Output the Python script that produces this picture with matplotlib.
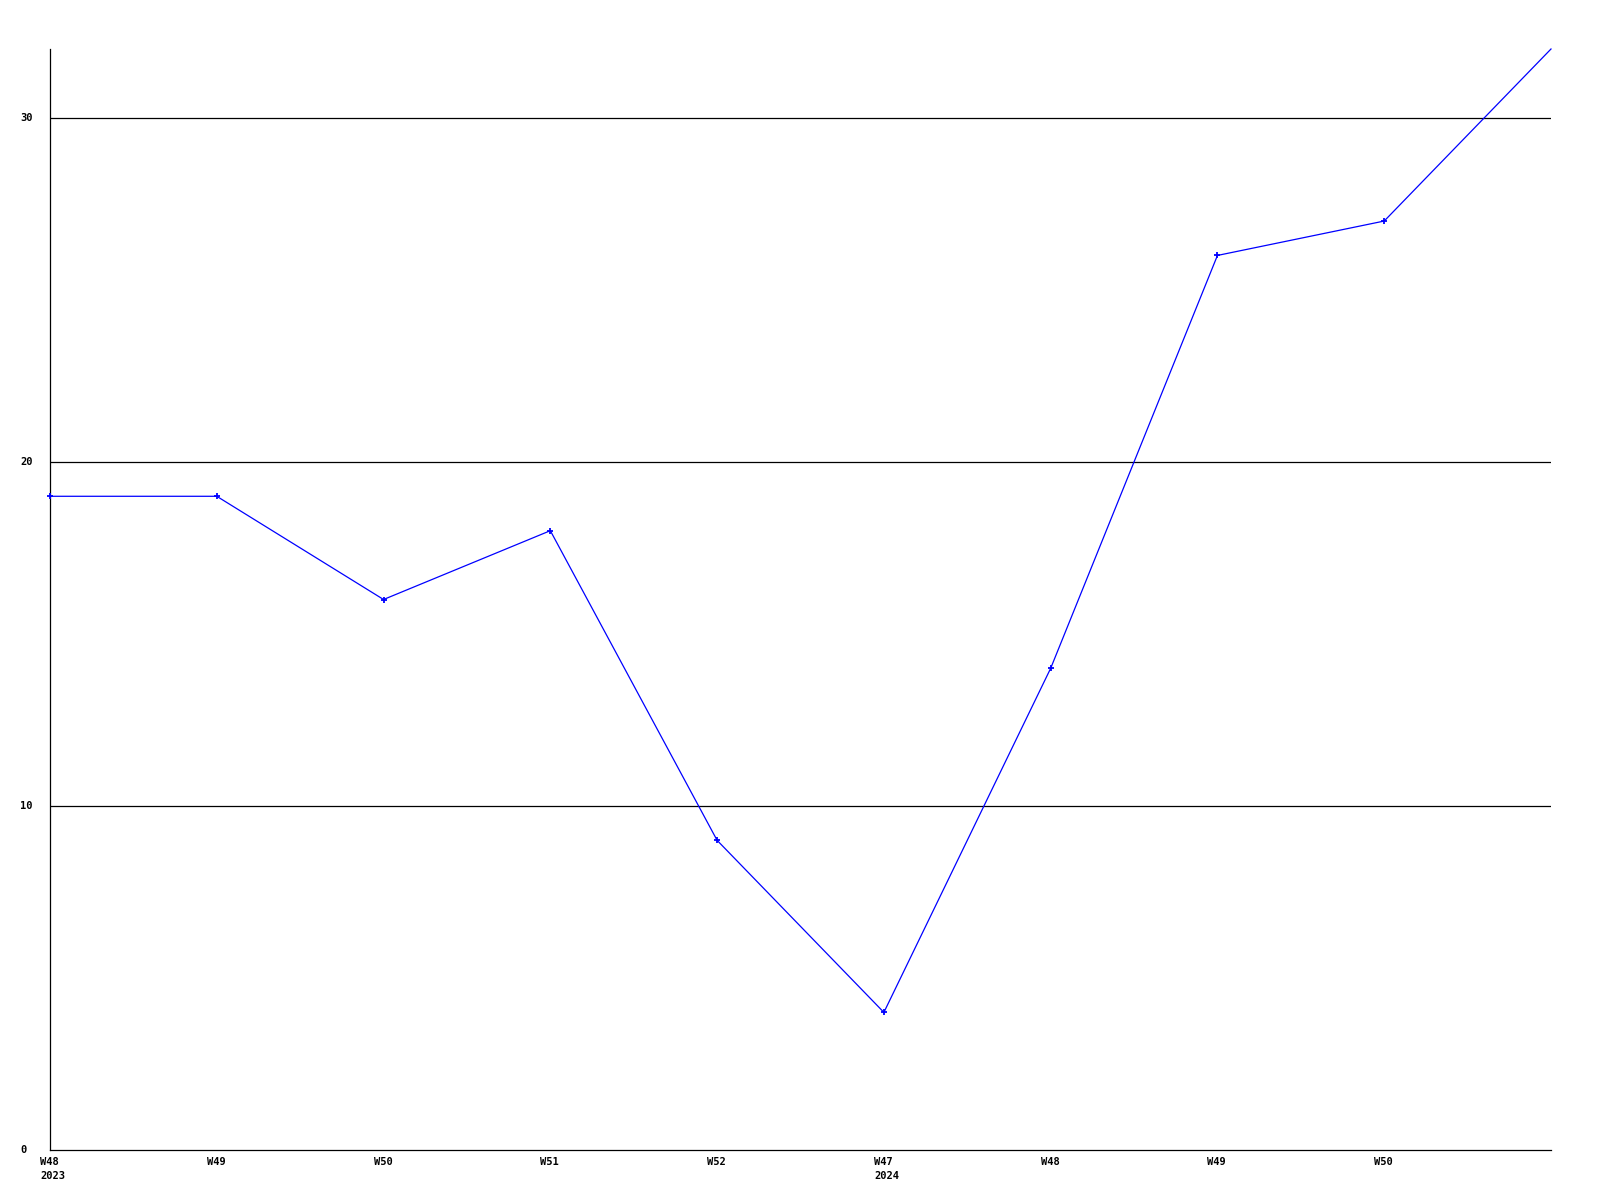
import matplotlib
matplotlib.use("Agg")
import matplotlib.pyplot as plt
import matplotlib.transforms as mtransforms

weeks = ["W48", "W49", "W50", "W51", "W52", "W47", "W48", "W49", "W50", ""]
years = ["2023", "", "", "", "", "2024", "", "", "", ""]
values = [19, 19, 16, 18, 9, 4, 14, 26, 27, 32]
yticks = [0, 10, 20, 30]

fig = plt.figure(figsize=(16, 12), dpi=100)
ax = fig.add_axes([50/1600, 1 - 1150/1200, (1551 - 50)/1600, (1150 - 49)/1200])

x = list(range(len(values)))
ax.plot(x, values, color="#0000ff", lw=0.9, marker="+", ms=4.5, mew=1.3,
        markevery=list(range(len(values) - 1)), clip_on=False, zorder=3)

ax.set_xlim(0, len(values) - 1)
ax.set_ylim(0, 32)

for s in ["top", "right"]:
    ax.spines[s].set_visible(False)
for s in ["left", "bottom"]:
    ax.spines[s].set_color("black")
    ax.spines[s].set_linewidth(0.9)

for t in yticks[1:]:
    ax.axhline(t, color="black", lw=0.9, zorder=1)

ax.set_xticks([])
ax.set_yticks([])

font = dict(family="DejaVu Sans Mono", weight="bold", size=7.5)

# y labels, left-aligned at x=20px
for t in yticks:
    trans = mtransforms.blended_transform_factory(fig.transFigure, ax.transData)
    fig.text(20/1600, t, str(t), transform=trans, ha="left", va="center", **font)

# x labels
for i, (w, yr) in enumerate(zip(weeks, years)):
    if not w:
        continue
    label = w if not yr else w + "\n" + yr
    off = mtransforms.offset_copy(ax.transData, fig=fig, x=-10, y=-7, units="dots")
    ax.text(i, 0, label, transform=off, ha="left", va="top", linespacing=1.55, clip_on=False, **font)

fig.savefig("out.png", dpi=100, facecolor="white")
